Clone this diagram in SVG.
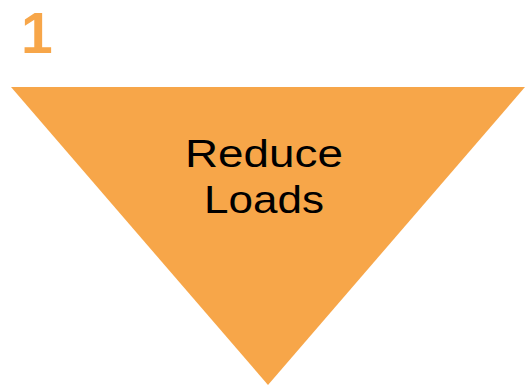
<svg xmlns="http://www.w3.org/2000/svg" width="526" height="390" viewBox="0 0 526 390">
<style>
.lbl{font-family:"Liberation Sans",Arial,sans-serif;font-size:39px;fill:#000;text-anchor:middle}
</style>
<rect width="526" height="390" fill="#fff"/>
<g id="step-number">
<text x="21" y="53" font-family="Liberation Sans,Arial,sans-serif" font-weight="bold" font-size="57" fill="#F7A649">1</text>
</g>
<g id="reduce-loads">
<polygon points="11,87 525,87 268,385" fill="#F7A649"/>
<text class="lbl" x="264" y="167" textLength="158" lengthAdjust="spacingAndGlyphs">Reduce</text>
<text class="lbl" x="264" y="213" textLength="120" lengthAdjust="spacingAndGlyphs">Loads</text>
</g>
<g id="connectors"/>
</svg>
